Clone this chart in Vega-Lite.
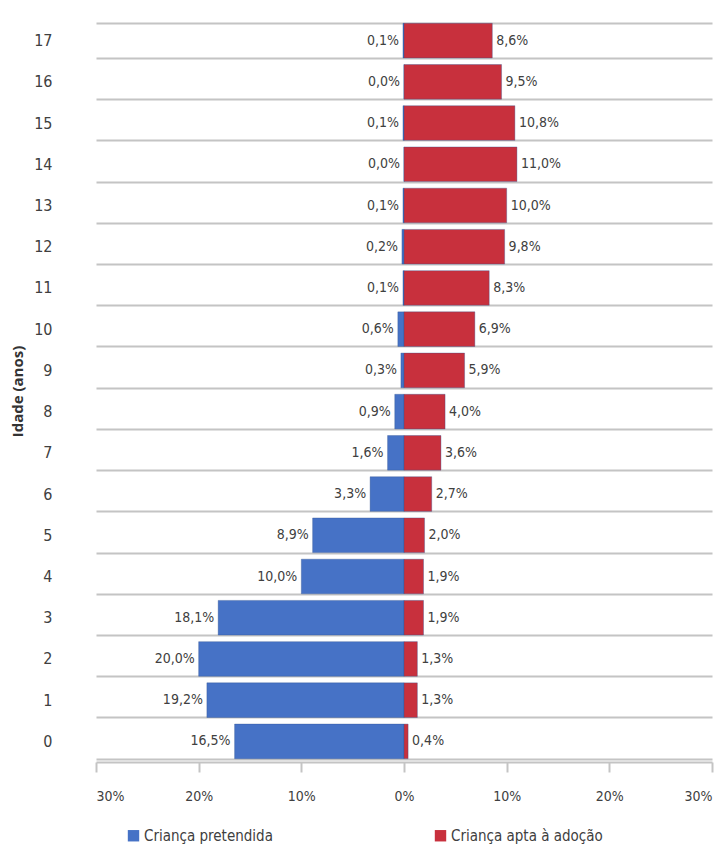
{
  "$schema": "https://vega.github.io/schema/vega-lite/v6.json",
  "width": 616,
  "height": 742,
  "autosize": {"type": "none"},
  "padding": {"left": 96, "top": 20, "right": 16, "bottom": 96},
  "background": "white",
  "config": {"view": {"stroke": null}},
  "data": {
    "values": [
      {"idade": 17, "serie": "Criança pretendida", "v": 0.1},
      {"idade": 16, "serie": "Criança pretendida", "v": 0.0},
      {"idade": 15, "serie": "Criança pretendida", "v": 0.1},
      {"idade": 14, "serie": "Criança pretendida", "v": 0.0},
      {"idade": 13, "serie": "Criança pretendida", "v": 0.1},
      {"idade": 12, "serie": "Criança pretendida", "v": 0.2},
      {"idade": 11, "serie": "Criança pretendida", "v": 0.1},
      {"idade": 10, "serie": "Criança pretendida", "v": 0.6},
      {"idade": 9, "serie": "Criança pretendida", "v": 0.3},
      {"idade": 8, "serie": "Criança pretendida", "v": 0.9},
      {"idade": 7, "serie": "Criança pretendida", "v": 1.6},
      {"idade": 6, "serie": "Criança pretendida", "v": 3.3},
      {"idade": 5, "serie": "Criança pretendida", "v": 8.9},
      {"idade": 4, "serie": "Criança pretendida", "v": 10.0},
      {"idade": 3, "serie": "Criança pretendida", "v": 18.1},
      {"idade": 2, "serie": "Criança pretendida", "v": 20.0},
      {"idade": 1, "serie": "Criança pretendida", "v": 19.2},
      {"idade": 0, "serie": "Criança pretendida", "v": 16.5},
      {"idade": 17, "serie": "Criança apta à adoção", "v": 8.6},
      {"idade": 16, "serie": "Criança apta à adoção", "v": 9.5},
      {"idade": 15, "serie": "Criança apta à adoção", "v": 10.8},
      {"idade": 14, "serie": "Criança apta à adoção", "v": 11.0},
      {"idade": 13, "serie": "Criança apta à adoção", "v": 10.0},
      {"idade": 12, "serie": "Criança apta à adoção", "v": 9.8},
      {"idade": 11, "serie": "Criança apta à adoção", "v": 8.3},
      {"idade": 10, "serie": "Criança apta à adoção", "v": 6.9},
      {"idade": 9, "serie": "Criança apta à adoção", "v": 5.9},
      {"idade": 8, "serie": "Criança apta à adoção", "v": 4.0},
      {"idade": 7, "serie": "Criança apta à adoção", "v": 3.6},
      {"idade": 6, "serie": "Criança apta à adoção", "v": 2.7},
      {"idade": 5, "serie": "Criança apta à adoção", "v": 2.0},
      {"idade": 4, "serie": "Criança apta à adoção", "v": 1.9},
      {"idade": 3, "serie": "Criança apta à adoção", "v": 1.9},
      {"idade": 2, "serie": "Criança apta à adoção", "v": 1.3},
      {"idade": 1, "serie": "Criança apta à adoção", "v": 1.3},
      {"idade": 0, "serie": "Criança apta à adoção", "v": 0.4}
    ]
  },
  "transform": [
    {"calculate": "datum.serie === 'Criança pretendida' ? -datum.v : datum.v", "as": "xv"},
    {"calculate": "replace(format(datum.v, '.1f'), '.', ',') + '%'", "as": "rotulo"}
  ],
  "encoding": {
    "y": {
      "field": "idade",
      "type": "ordinal",
      "sort": "descending",
      "title": "Idade (anos)",
      "scale": {"paddingInner": 0.16, "paddingOuter": 0.08},
      "axis": {
        "grid": true,
        "tickBand": "extent",
        "gridColor": "#c4c4c4",
        "gridWidth": 2,
        "domain": false,
        "ticks": false,
        "labelPadding": 44,
        "labelFontSize": 16,
        "labelColor": "#404040",
        "labelFont": "DejaVu Sans Condensed",
        "titleFont": "Open Sans",
        "titleFontWeight": "bold",
        "titleFontSize": 15,
        "titleColor": "#333333",
        "titlePadding": 8
      }
    }
  },
  "layer": [
    {
      "mark": {"type": "bar", "stroke": "#2f4f8f", "strokeOpacity": 0.35, "strokeWidth": 1},
      "encoding": {
        "x": {
          "field": "xv",
          "type": "quantitative",
          "scale": {"domain": [-30, 30]},
          "title": null,
          "axis": {
            "values": [-30, -20, -10, 0, 10, 20, 30],
            "labelExpr": "abs(datum.value) + '%'",
            "grid": false,
            "domain": true,
            "domainColor": "#c4c4c4",
            "domainWidth": 2,
            "ticks": true,
            "tickColor": "#c4c4c4",
            "tickWidth": 2,
            "tickSize": 10,
            "labelPadding": 17,
            "labelFontSize": 14,
            "labelColor": "#404040",
            "labelFont": "DejaVu Sans Condensed"
          }
        },
        "x2": {"datum": 0},
        "color": {
          "field": "serie",
          "type": "nominal",
          "scale": {
            "domain": ["Criança pretendida", "Criança apta à adoção"],
            "range": ["#4672c6", "#c8303d"]
          },
          "legend": {
            "orient": "none",
            "legendX": 30,
            "legendY": 808,
            "direction": "horizontal",
            "title": null,
            "symbolType": "square",
            "symbolSize": 130,
            "symbolStrokeWidth": 0,
            "labelFontSize": 15,
            "labelFont": "DejaVu Sans Condensed",
            "labelColor": "#404040",
            "columnPadding": 160,
            "labelOffset": 3
          }
        }
      }
    },
    {
      "transform": [{"filter": "datum.serie === 'Criança pretendida'"}],
      "mark": {"type": "text", "align": "right", "dx": -4, "fontSize": 14, "font": "DejaVu Sans Condensed", "color": "#404040"},
      "encoding": {
        "x": {"field": "xv", "type": "quantitative"},
        "text": {"field": "rotulo"}
      }
    },
    {
      "transform": [{"filter": "datum.serie === 'Criança apta à adoção'"}],
      "mark": {"type": "text", "align": "left", "dx": 4, "fontSize": 14, "font": "DejaVu Sans Condensed", "color": "#404040"},
      "encoding": {
        "x": {"field": "xv", "type": "quantitative"},
        "text": {"field": "rotulo"}
      }
    }
  ]
}
